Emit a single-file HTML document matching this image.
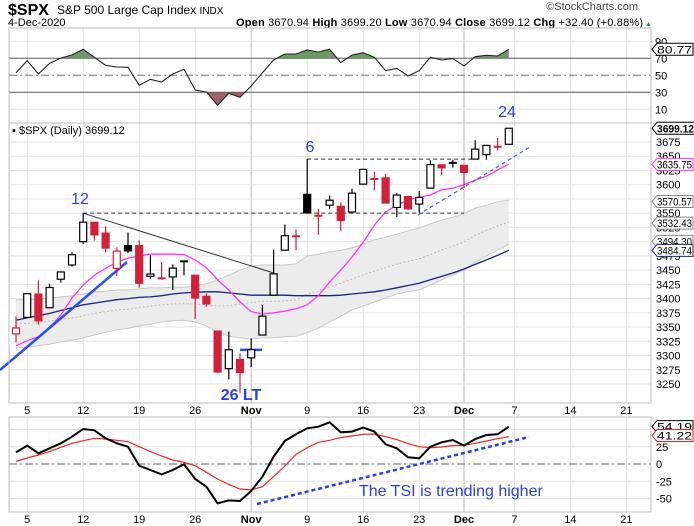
<!DOCTYPE html>
<html><head><meta charset="utf-8"><style>
body{margin:0;background:#fff;}
svg{display:block;font-family:"Liberation Sans",sans-serif;}
</style></head><body>
<svg id="c" width="694" height="526" viewBox="0 0 694 526" xmlns="http://www.w3.org/2000/svg">
<g>
<text x="8" y="15" font-size="16" font-weight="bold">$SPX</text>
<text x="57" y="14" font-size="12">S&amp;P 500 Large Cap Index <tspan font-size="10">INDX</tspan></text>
<text x="8" y="26" font-size="11">4-Dec-2020</text>
<text x="638" y="10" font-size="11" fill="#444" text-anchor="end">©StockCharts.com</text>
<text x="643" y="26" font-size="11" text-anchor="end" textLength="407" lengthAdjust="spacing"><tspan font-weight="bold">Open</tspan> 3670.94 <tspan font-weight="bold">High</tspan> 3699.20 <tspan font-weight="bold">Low</tspan> 3670.94 <tspan font-weight="bold">Close</tspan> 3699.12 <tspan font-weight="bold">Chg</tspan> +32.40 (+0.88%)</text>
<text x="645" y="26" font-size="7" fill="#3a8a3a">▲</text>
</g>
<g id="rsi"></g>
<g id="main"></g>
<g id="tsi"></g>
</svg>
<script>
const closes=[3348.4,3408.6,3361.0,3419.5,3446.8,3477.1,3534.2,3511.9,3488.7,3483.3,3483.8,3426.9,3443.1,3435.6,3453.5,3465.4,3401.0,3390.7,3271.0,3310.1,3270.0,3310.2,3369.2,3443.4,3510.5,3509.4,3550.5,3545.5,3572.7,3537.0,3585.2,3626.9,3610.0,3567.8,3581.9,3557.5,3577.6,3635.4,3629.7,3638.4,3621.6,3662.5,3669.0,3666.7,3699.1];
const opens=[3338,3367,3408,3384,3434,3459,3500,3534,3515,3453,3493,3493,3439,3439,3438,3464,3441,3404,3343,3277,3293,3296,3336,3406,3485,3508,3583,3544,3564,3562,3552,3601,3611,3612,3560,3579,3566,3594,3635,3638,3634,3645,3653,3668,3671];
const highs=[3369,3409,3432,3426,3447,3482,3550,3534,3527,3490,3516,3502,3476,3464,3460,3466,3441,3409,3343,3342,3304,3330,3389,3486,3530,3521,3645,3557,3581,3569,3593,3628,3623,3619,3585,3581,3589,3643,3635,3644,3634,3678,3670,3682,3699];
const lows=[3323,3367,3354,3384,3428,3456,3496,3502,3481,3440,3480,3419,3435,3433,3415,3441,3364,3386,3269,3258,3234,3280,3336,3405,3485,3485,3549,3512,3557,3519,3552,3600,3590,3567,3543,3556,3551,3594,3617,3630,3594,3645,3644,3660,3671];
const prevClose0=3380.8;
const ema10=[3317,3326,3333,3349,3371,3401,3424,3441,3453,3464,3471,3475,3478,3478,3478,3477,3468,3454,3433,3415,3394,3377,3373,3375,3378,3382,3389,3405,3429,3450,3473,3499,3529,3552,3564,3573,3578,3582,3591,3594,3600,3608,3615,3626,3636];
const sma50=[3362,3366,3370,3374,3379,3384,3389,3392,3395,3398,3400,3402,3403,3405,3408,3410,3411,3412,3412,3410,3408,3406,3406,3406,3406,3405,3405,3405,3405,3406,3408,3410,3412,3415,3419,3423,3427,3433,3439,3445,3452,3460,3468,3476,3485];
const bbUpper=[3398,3398,3399,3401,3403,3405,3408,3412,3413,3415,3415,3417,3419,3419,3420,3420,3422,3426,3433,3441,3450,3457,3459,3459,3459,3461,3475,3478,3482,3485,3489,3496,3503,3508,3513,3519,3524,3531,3538,3543,3549,3559,3564,3570,3573];
const bbLower=[3313,3315,3317,3320,3324,3327,3331,3336,3341,3345,3348,3352,3355,3359,3361,3362,3359,3352,3341,3334,3331,3329,3331,3331,3333,3334,3340,3348,3359,3369,3380,3387,3394,3401,3408,3412,3415,3424,3433,3441,3450,3464,3475,3485,3496];
const rsiVals=[53.1,67.2,51.5,64.1,70.4,73.9,80.6,71.2,61.8,59.8,59.4,38.2,45.3,42.1,51.5,57.1,32.7,30.4,14.7,28.8,24.1,37.4,53.1,68.0,75.1,75.1,79.8,77.4,80.6,64.9,73.9,76.6,71.2,55.4,58.2,49.2,55.4,71.2,68.0,69.6,60.9,71.9,73.5,72.7,80.6];
const tsiVals=[16.9,26.6,15.5,22.7,30,39.6,50.7,48.8,37.2,30,25.1,-2.4,-8.7,-15,-8.7,-0.5,-21.7,-32.9,-57,-52.7,-53.6,-39.1,-18.4,10.6,33.3,43,51.7,54.1,60.4,45.9,46.9,52.7,46.9,28.5,22.7,9.7,8.2,25.1,31.4,34.8,26.6,36.2,42,43,54];
const tsiSignal=[3.9,8.7,13,17.9,24.2,30,33.8,37.2,36.2,34.3,32.4,25.1,17.9,11.6,5.8,2.4,-2.4,-12.1,-21.7,-29.5,-36.2,-37.7,-32.9,-18.4,-2.9,14,23.7,31.4,34.3,38.2,40.6,43,43.5,39.6,35.3,29.5,25.1,23.7,24.6,26.6,27.1,30,33.3,36.7,39.6];
const priceTicks=[3250,3275,3300,3325,3350,3375,3400,3425,3450,3475,3500,3525,3550,3575,3600,3625,3650,3675];
const rsiTicks=[10,30,50,70,90];
const tsiTicks=[-50,-25,0,25];
const dateLabels=["5","12","19","26","Nov","9","16","23","Dec","7","14","21"];
const dateSlots=[1,6,11,16,21,26,31,36,40,44.5,49.5,54.5];

const NS="http://www.w3.org/2000/svg";
const L=9,R=651;
const xI=i=>16+i*11.2;
const yP=p=>142+(3675-p)*0.5694;
const yR=v=>75.3-(v-50)*0.85;
const yT=v=>464-v*0.69;
function mk(parent,tag,attrs,text){const e=document.createElementNS(NS,tag);for(const k in attrs)e.setAttribute(k,attrs[k]);if(text!==undefined)e.textContent=text;parent.appendChild(e);return e;}
function pathOf(arr,fy){return arr.map((v,i)=>(i?'L':'M')+xI(i).toFixed(1)+','+fy(v).toFixed(1)).join(' ');}
function grid(g,top,bot){
  dateSlots.forEach((s,k)=>{const x=xI(s);const dark=(dateLabels[k]==="Nov"||dateLabels[k]==="Dec");
    const ln=mk(g,'line',{x1:x,x2:x,y1:top,y2:bot,stroke:dark?'#b8b8b8':'#e0e0e0','stroke-width':1});
    
    });
}
function valueBox(g,y,text,color,bold,name){
  const w=bold?38:36;
  const p=mk(g,'path',{d:`M652,${y} l5,-6 h${w} v12 h-${w} z`,fill:'#fff',stroke:color,'stroke-width':1});
  
  
  const t=mk(g,'text',{x:657,y:y+4,'font-size':11,fill:'#000','font-weight':bold?'bold':'normal',textLength:w-1,lengthAdjust:'spacingAndGlyphs'},text);
  
  
}
// ===== RSI =====
const rg=document.getElementById('rsi');
grid(rg,28,123);
rsiTicks.forEach(v=>{const y=yR(v);
  const major=(v===30||v===70);const mid=v===50;
  const ln=mk(rg,'line',{x1:L,x2:R,y1:y,y2:y,stroke:major?'#555':(mid?'#777':'#e6e6e6'),'stroke-width':1,'stroke-dasharray':mid?'8,3,2,3':'none'});
  
  
  const t=mk(rg,'text',{x:655,y:y+4,'font-size':11},String(v));
  
  });
const defs=mk(document.getElementById('c'),'defs',{});
const cp1=mk(defs,'clipPath',{id:'above70'});mk(cp1,'rect',{x:0,y:0,width:694,height:yR(70)});
const cp2=mk(defs,'clipPath',{id:'below30'});mk(cp2,'rect',{x:0,y:yR(30),width:694,height:40});
const rsiLine=pathOf(rsiVals,yR);
const n=rsiVals.length;
const fg=mk(rg,'path',{d:rsiLine+` L${xI(n-1)},${yR(70)} L${xI(0)},${yR(70)} Z`,fill:'#6b9a66','clip-path':'url(#above70)'});


const fr=mk(rg,'path',{d:rsiLine+` L${xI(n-1)},${yR(30)} L${xI(0)},${yR(30)} Z`,fill:'#a0606c','clip-path':'url(#below30)'});


const rl=mk(rg,'path',{d:rsiLine,fill:'none',stroke:'#222','stroke-width':1.1});


const rb=mk(rg,'rect',{x:L,y:28,width:R-L,height:95,fill:'none',stroke:'#bbb'});


valueBox(rg,yR(rsiVals[n-1]),'80.77','#000',false,'rsi-value-label');
// ===== MAIN =====
const mg=document.getElementById('main');
grid(mg,123,403);
priceTicks.forEach(p=>{const y=yP(p);
  const ln=mk(mg,'line',{x1:L,x2:R,y1:y,y2:y,stroke:'#e3e3e3'});
  
  
  const t=mk(mg,'text',{x:656,y:y+4,'font-size':11},String(p));
  
  });
let bd=pathOf(bbUpper,yP);
for(let i=bbLower.length-1;i>=0;i--)bd+=` L${xI(i).toFixed(1)},${yP(bbLower[i]).toFixed(1)}`;
const band=mk(mg,'path',{d:bd+' Z',fill:'#ececec',stroke:'none'});


const bu=mk(mg,'path',{d:pathOf(bbUpper,yP),fill:'none',stroke:'#c8c8c8'});


const bl=mk(mg,'path',{d:pathOf(bbLower,yP),fill:'none',stroke:'#c8c8c8'});


const bm=mk(mg,'path',{d:pathOf(bbUpper.map((u,i)=>(u+bbLower[i])/2),yP),fill:'none',stroke:'#bbb','stroke-dasharray':'2,2'});


const s50=mk(mg,'path',{d:pathOf(sma50,yP),fill:'none',stroke:'#1a237e','stroke-width':1.3});


const e10=mk(mg,'path',{d:pathOf(ema10,yP),fill:'none',stroke:'#ff33ff','stroke-width':1.3});


function ann(d,attrs,name){const e=mk(mg,'path',Object.assign({d:d,fill:'none'},attrs));}
ann(`M${xI(6)},${yP(3550)} L${xI(23)},${yP(3445)}`,{stroke:'#333','stroke-width':1},'downtrend-line');
ann(`M${xI(6)},${yP(3550)} H${xI(40)}`,{stroke:'#333','stroke-dasharray':'4,3'},'support-dashed-line');
ann(`M${xI(26)},${yP(3645)} H${xI(41)}`,{stroke:'#333','stroke-dasharray':'4,3'},'resistance-dashed-line');
ann('M0,370 L127,262',{stroke:'#2a52e6','stroke-width':2.5},'uptrend-line');
ann(`M240,${yP(3310)} H262`,{stroke:'#2a52e6','stroke-width':2.5},'low-marker-line');
ann(`M418,215 L530,147`,{stroke:'#4a5ae8','stroke-width':1.2,'stroke-dasharray':'4,3'},'rising-support-line');
closes.forEach((c,i)=>{
  const o=opens[i],h=highs[i],l=lows[i];const pc=i?closes[i-1]:prevClose0;
  const col=c<pc?'#d0203a':'#000';const filled=c<o;
  const x=xI(i);
  const g=mk(mg,'g',{});
  
  
  mk(g,'line',{x1:x,x2:x,y1:yP(h),y2:yP(l),stroke:col,'stroke-width':1.2});
  const t=Math.min(yP(o),yP(c)),b=Math.max(yP(o),yP(c));
  if(b-t<2){mk(g,'line',{x1:x-4,x2:x+4,y1:yP(c),y2:yP(c),stroke:col,'stroke-width':2});}
  else mk(g,'rect',{x:x-3.5,y:t,width:7,height:b-t,fill:filled?col:'#fff',stroke:col,'stroke-width':1.2});
});
const mb=mk(mg,'rect',{x:L,y:123,width:R-L,height:280,fill:'none',stroke:'#bbb'});


const lg=mk(mg,'text',{x:12,y:134,'font-size':11},'▪ $SPX (Daily) 3699.12');


function label(x,y,t,sz,bold,name){const e=mk(mg,'text',{x:x,y:y,'font-size':sz,fill:'#2a3ee6','font-weight':bold?'bold':'normal','text-anchor':'middle'},t);}
label(80,204,'12',16,false,'wave-label-12');
label(310,152,'6',16,false,'wave-label-6');
label(507,117,'24',16,false,'wave-label-24');
label(241,400,'26 LT',16,true,'wave-label-26-lt');
valueBox(mg,yP(3484.74)-9,'3494.30','#888',false,'bb-lower-value');
valueBox(mg,yP(3699.12),'3699.12','#000',true,'close-value-label');
valueBox(mg,yP(3635.75),'3635.75','#ff33ff',false,'ema-value-label');
valueBox(mg,yP(3570.57),'3570.57','#888',false,'bb-upper-value');
valueBox(mg,yP(3532.43),'3532.43','#888',false,'bb-middle-value');
valueBox(mg,yP(3484.74),'3484.74','#1a237e',false,'sma-value-label');
dateLabels.forEach((d,k)=>{const b=(d==='Nov'||d==='Dec');
  const t=mk(mg,'text',{x:xI(dateSlots[k]),y:414,'font-size':11,'text-anchor':'middle','font-weight':b?'bold':'normal'},d);
  
  
  const t2=mk(mg,'text',{x:xI(dateSlots[k]),y:523,'font-size':11,'text-anchor':'middle','font-weight':b?'bold':'normal'},d);
  
  });
// ===== TSI =====
const tg=document.getElementById('tsi');
grid(tg,417,512);
tsiTicks.concat([50]).forEach(v=>{const y=yT(v);
  const ln=mk(tg,'line',{x1:L,x2:R,y1:y,y2:y,stroke:v===0?'#666':'#e3e3e3','stroke-dasharray':v===0?'8,3,2,3':'none'});
  
  
  if(v!==50){const t=mk(tg,'text',{x:656,y:y+4,'font-size':11},String(v));
  
  }});
const ts=mk(tg,'path',{d:pathOf(tsiSignal,yT),fill:'none',stroke:'#ee2222','stroke-width':1.2});


const tl=mk(tg,'path',{d:pathOf(tsiVals,yT),fill:'none',stroke:'#000','stroke-width':2});


const tt=mk(tg,'path',{d:'M257,504 L529,437',fill:'none',stroke:'#2a3ee6','stroke-width':2.5,'stroke-dasharray':'4,3'});


const tx=mk(tg,'text',{x:359,y:496,'font-size':16,fill:'#2a3ee6'},'The TSI is trending higher');


const tb=mk(tg,'rect',{x:L,y:417,width:R-L,height:95,fill:'none',stroke:'#bbb'});


valueBox(tg,yT(54.19),'54.19','#000',false,'tsi-value-label');
valueBox(tg,yT(41.22),'41.22','#ee2222',false,'tsi-signal-value-label');
</script>
</body></html>
